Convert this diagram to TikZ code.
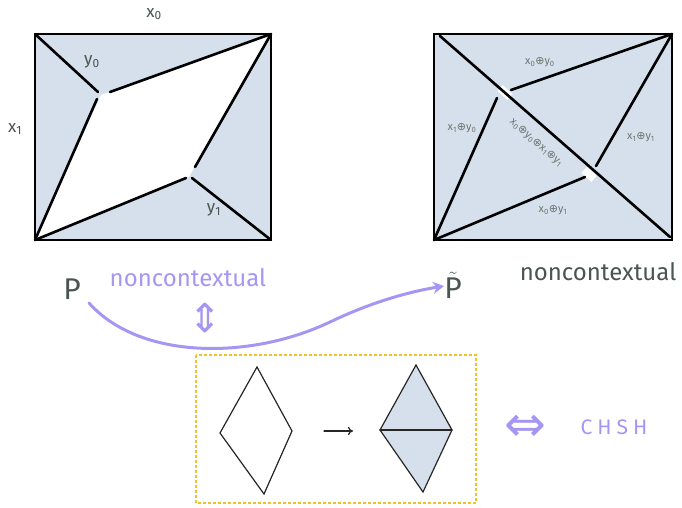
\documentclass[tikz,border=0pt]{standalone}
\usepackage{fontspec}
\setmainfont{Fira Sans}
\newfontfamily\symfont{DejaVu Sans}
\usetikzlibrary{arrows.meta}
\definecolor{fillblue}{HTML}{D5E0EC}
\definecolor{lavender}{HTML}{A696F4}
\definecolor{inkgray}{HTML}{4A5550}
\definecolor{gold}{HTML}{F2C12E}
\tikzset{
  edge/.style={line width=2.6pt, line cap=round, black},
  thin edge/.style={line width=1.2pt, line cap=round, black!85},
  lbl/.style={text=inkgray, font=\fontsize{17}{17}\selectfont, inner sep=0pt},
  smalllbl/.style={text=inkgray!80, font=\fontsize{11}{11}\selectfont, inner sep=0pt},
  purp/.style={text=lavender, inner sep=0pt},
}
\newcommand{\myxo}{x\textsubscript{0}}
\newcommand{\myxi}{x\textsubscript{1}}
\newcommand{\myyo}{y\textsubscript{0}}
\newcommand{\myyi}{y\textsubscript{1}}
\newcommand{\myop}{{\symfont ⊕}}
\begin{document}
\begin{tikzpicture}[x=1pt,y=-1pt]
\useasboundingbox (0,0) rectangle (682,508);
% ---------- left square ----------
\coordinate (LTL) at (35,34);
\coordinate (LTR) at (271,34);
\coordinate (LBL) at (35,240);
\coordinate (LBR) at (271,240);
\coordinate (LA) at (101,95);
\coordinate (LB) at (189,177);
\fill[fillblue] (LTL) rectangle (LBR);
\fill[white] (LBL) -- (LA) -- (LTR) -- (LB) -- cycle;
\draw[edge] (LTL) -- (LTR) -- (LBR) -- (LBL) -- cycle;
\draw[edge] (LTL) -- (98,92);
\draw[edge] (110,92) -- (LTR);
\draw[edge] (97,99) -- (LBL);
\draw[edge] (LTR) -- (195,167);
\draw[edge] (186,178) -- (LBL);
\draw[edge] (192,178) -- (LBR);
\node[lbl] (x0) at (154,14) {\myxo};
\node[lbl] (x1) at (15,129) {\myxi};
\node[lbl] (y0) at (92,62) {\myyo};
\node[lbl] (y1) at (214,210) {\myyi};
% ---------- right square ----------
\coordinate (RTL) at (434,34);
\coordinate (RTR) at (672,34);
\coordinate (RBL) at (434,240);
\coordinate (RBR) at (672,240);
\fill[fillblue] (RTL) rectangle (RBR);
\draw[edge] (RTL) -- (RTR) -- (RBR) -- (RBL) -- cycle;
\draw[white, line width=8pt] (500,88) -- (510,97);
\draw[white, line width=8pt] (584,170) -- (594,179);
\draw[edge] (440,36) -- (670,237);
\draw[edge] (511,90) -- (RTR);
\draw[edge] (497,98) -- (RBL);
\draw[edge] (RTR) -- (596,166);
\draw[edge] (585,177) -- (RBL);
\node[smalllbl] (a) at (540,62) {\myxo\myop\myyo};
\node[smalllbl] (b) at (462,128) {\myxi\myop\myyo};
\node[smalllbl] (c) at (641,137) {\myxi\myop\myyi};
\node[smalllbl] (d) at (553,210) {\myxo\myop\myyi};
\node[smalllbl, rotate=-41] (e) at (536,143) {\myxo\myop\myyo\myop\myxi\myop\myyi};
% ---------- middle row ----------
\node[lbl, font=\fontsize{30}{30}\selectfont] (P) at (72,289) {P};
\node[purp, font=\fontsize{24}{24}\selectfont] (nc1) at (188,278) {noncontextual};
\node[lbl, font=\fontsize{30}{30}\selectfont] (Pt) at (453,285) {$\tilde{\mathrm{P}}$};
\node[lbl, font=\fontsize{24}{24}\selectfont] (nc2) at (598,272) {noncontextual};
\node[purp, font=\fontsize{40}{40}\selectfont\symfont] (ud) at (205,318) {⇕};
\draw[lavender, line width=3pt, line cap=round, -{Stealth[length=11pt,width=12pt]}]
  (89,303) .. controls (140,360) and (250,360) .. (330,322) .. controls (380,298) and (420,290) .. (444,286);
% ---------- dashed box ----------
\draw[gold, line width=1.6pt, dash pattern=on 3pt off 2pt] (196,355) rectangle (476,503);
\coordinate (DT) at (257,367);
\coordinate (DL) at (220,433);
\coordinate (DR) at (292,431);
\coordinate (DB) at (264,494);
\draw[thin edge] (DT) -- (DR) -- (DB) -- (DL) -- cycle;
\coordinate (ArS) at (324,431);
\coordinate (ArE) at (353,431);
\draw[thin edge, -{To[length=5pt,width=8pt]}] (ArS) -- (ArE);
\coordinate (ET) at (416,365);
\coordinate (EL) at (380,430);
\coordinate (ER) at (452,430);
\coordinate (EB) at (423,492);
\fill[fillblue] (ET) -- (ER) -- (EB) -- (EL) -- cycle;
\draw[thin edge] (ET) -- (ER) -- (EB) -- (EL) -- cycle;
\draw[thin edge] (EL) -- (ER);
\node[purp, font=\fontsize{50}{50}\selectfont\symfont] (lr) at (525,428) {⇔};
\node[purp, font=\fontsize{21}{21}\selectfont] (chsh) at (614,427) {C\hspace{5pt}H\hspace{5pt}S\hspace{5pt}H};
\end{tikzpicture}
\end{document}
